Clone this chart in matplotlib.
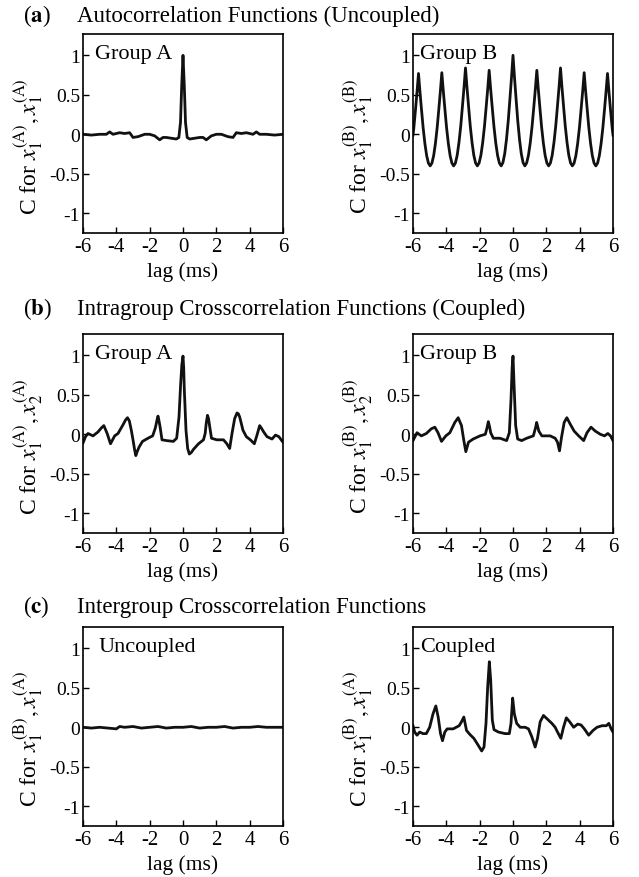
import numpy as np
import matplotlib
matplotlib.use("Agg")
import matplotlib.pyplot as plt

plt.rcParams["font.family"] = "serif"
plt.rcParams["font.serif"] = ["Liberation Serif", "DejaVu Serif"]
plt.rcParams["mathtext.fontset"] = "stix"

# ---- data (lag in ms, correlation C) ----
# (a) autocorrelation, group A, uncoupled
autoA_lag = [-6, -5.5, -5, -4.6, -4.4, -4.2, -3.8, -3.5, -3.2, -3.0, -2.7, -2.3, -2.0, -1.7,
             -1.4, -1.2, -1.0, -0.7, -0.4, -0.25, -0.15, -0.08, 0,
             0.08, 0.15, 0.25, 0.4, 0.7, 1.0, 1.2, 1.4, 1.7, 2.0, 2.3, 2.7, 3.0, 3.2,
             3.5, 3.8, 4.2, 4.4, 4.6, 5, 5.5, 6]
autoA_c = [0, -0.01, 0, 0, 0.03, 0, 0.02, 0.01, 0.02, -0.04, -0.03, 0, 0, -0.02,
           -0.07, -0.04, -0.04, -0.05, -0.06, -0.04, 0.15, 0.6, 1.0,
           0.6, 0.15, -0.04, -0.06, -0.05, -0.04, -0.04, -0.07, -0.02, 0, 0, -0.03, -0.04, 0.02,
           0.01, 0.02, 0, 0.03, 0, 0, -0.01, 0]

# (a) autocorrelation, group B, uncoupled (sharp peaks, rounded troughs)
autoB_lag = [-6.0, -5.95, -5.845, -5.755, -5.67, -5.586, -5.495, -5.39, -5.285, -5.18, -5.075, -4.97,
             -4.865, -4.76, -4.655, -4.55, -4.445, -4.354, -4.27,
             -4.185, -4.092, -3.986, -3.879, -3.773, -3.666, -3.56,
             -3.454, -3.347, -3.241, -3.134, -3.028, -2.935, -2.85,
             -2.765, -2.672, -2.566, -2.459, -2.353, -2.246, -2.14,
             -2.034, -1.927, -1.821, -1.714, -1.608, -1.515, -1.43,
             -1.344, -1.25, -1.142, -1.034, -0.926, -0.818, -0.71,
             -0.604, -0.497, -0.391, -0.284, -0.178, -0.085, 0.0,
             0.085, 0.178, 0.284, 0.391, 0.497, 0.604, 0.71,
             0.818, 0.926, 1.034, 1.142, 1.25, 1.344, 1.43,
             1.515, 1.608, 1.714, 1.821, 1.927, 2.034, 2.14,
             2.246, 2.353, 2.459, 2.566, 2.672, 2.765, 2.85,
             2.935, 3.028, 3.134, 3.241, 3.347, 3.454, 3.56,
             3.666, 3.773, 3.879, 3.986, 4.092, 4.185, 4.27,
             4.354, 4.445, 4.55, 4.655, 4.76, 4.865, 4.97,
             5.075, 5.18, 5.285, 5.39, 5.495, 5.586, 5.67, 5.755, 5.845, 5.95, 6.0]
autoB_c = [-0.01, 0.08, 0.325, 0.548, 0.77, 0.548, 0.325, 0.08, -0.119, -0.271, -0.365, -0.40,
           -0.365, -0.27, -0.117, 0.084, 0.332, 0.556, 0.78,
           0.556, 0.332, 0.084, -0.117, -0.27, -0.365, -0.40,
           -0.363, -0.264, -0.102, 0.108, 0.369, 0.604, 0.84,
           0.604, 0.369, 0.108, -0.102, -0.264, -0.363, -0.40,
           -0.364, -0.267, -0.11, 0.096, 0.35, 0.58, 0.81,
           0.58, 0.35, 0.096, -0.11, -0.267, -0.364, -0.40,
           -0.358, -0.246, -0.064, 0.174, 0.468, 0.734, 1.0,
           0.734, 0.468, 0.174, -0.064, -0.246, -0.358, -0.40,
           -0.364, -0.267, -0.11, 0.096, 0.35, 0.58, 0.81,
           0.58, 0.35, 0.096, -0.11, -0.267, -0.364, -0.40,
           -0.363, -0.264, -0.102, 0.108, 0.369, 0.604, 0.84,
           0.604, 0.369, 0.108, -0.102, -0.264, -0.363, -0.40,
           -0.365, -0.27, -0.117, 0.084, 0.332, 0.556, 0.78,
           0.556, 0.332, 0.084, -0.117, -0.27, -0.365, -0.40,
           -0.365, -0.271, -0.119, 0.08, 0.325, 0.548, 0.77, 0.548, 0.325, 0.08, -0.01]

# (b) intragroup crosscorrelation, group A, coupled
crossA_lag = [-6, -5.85, -5.7, -5.4, -5.1, -4.9, -4.75, -4.55, -4.35, -4.1, -3.9, -3.6, -3.45,
              -3.33, -3.22, -3.1, -3.0, -2.9, -2.83, -2.75, -2.63, -2.43, -2.1, -1.82, -1.66,
              -1.56, -1.5, -1.44, -1.38, -1.26, -0.98, -0.58, -0.38, -0.24, -0.14, -0.07, 0,
              0.04, 0.08, 0.18, 0.28, 0.38, 0.5, 0.63, 0.93, 1.23, 1.33, 1.4, 1.47, 1.53, 1.6,
              1.71, 2.03, 2.43, 2.63, 2.8, 2.94, 3.1, 3.24, 3.32, 3.4, 3.6, 3.8, 4.04, 4.28,
              4.44, 4.6, 4.7, 4.84, 5.04, 5.34, 5.55, 5.75, 6]
crossA_c = [-0.11, -0.03, 0.01, -0.02, 0.03, 0.08, 0.11, 0.01, -0.12, -0.02, 0.01, 0.12, 0.18,
            0.21, 0.17, 0.05, -0.07, -0.2, -0.27, -0.22, -0.16, -0.09, -0.05, -0.02, 0.08,
            0.18, 0.23, 0.17, 0.10, -0.07, -0.08, -0.09, -0.05, 0.22, 0.64, 0.88, 0.99,
            0.85, 0.56, 0.05, -0.18, -0.25, -0.23, -0.19, -0.12, -0.07, 0.01, 0.15, 0.24, 0.2, 0.10,
            -0.05, -0.07, -0.07, -0.12, -0.18, 0.01, 0.20, 0.27, 0.26, 0.22, 0.05, -0.03, -0.07,
            -0.12, -0.01, 0.11, 0.08, 0.03, -0.03, -0.06, -0.01, -0.03, -0.10]

# (b) intragroup crosscorrelation, group B, coupled
crossB_lag = [-6, -5.76, -5.5, -5.2, -4.9, -4.69, -4.5, -4.29, -4.03, -3.79, -3.49, -3.29,
              -3.09, -2.95, -2.83, -2.67, -2.39, -1.98, -1.66, -1.56, -1.48, -1.4, -1.34, -1.18,
              -0.78, -0.38, -0.22, -0.12, -0.05, 0, 0.06, 0.16, 0.28, 0.52, 0.82, 1.22, 1.35,
              1.42, 1.55, 1.73, 2.23, 2.53, 2.67, 2.79, 2.91, 3.07, 3.23, 3.43, 3.67, 3.94,
              4.24, 4.44, 4.68, 4.94, 5.24, 5.49, 5.69, 5.85, 6]
crossB_c = [-0.08, 0.02, -0.02, 0.01, 0.07, 0.09, 0.02, -0.09, -0.02, 0.02, 0.15, 0.21,
            0.11, -0.08, -0.22, -0.10, -0.06, -0.02, 0.0, 0.08, 0.16, 0.09, 0.02, -0.05,
            -0.05, -0.08, 0.02, 0.44, 0.85, 0.99, 0.65, 0.11, -0.06, -0.08, -0.05, -0.02, 0.08,
            0.15, 0.04, -0.02, -0.02, -0.05, -0.10, -0.21, -0.04, 0.15, 0.21, 0.13, 0.04, -0.02,
            -0.08, 0.02, 0.09, 0.04, 0.0, -0.02, 0.01, -0.02, -0.08]

# (c) intergroup crosscorrelation, uncoupled
interU_lag = [-6, -5.5, -5, -4.5, -4, -3.8, -3.5, -3, -2.5, -2, -1.5, -1, -0.5, 0,
              0.5, 1, 1.5, 2, 2.5, 3, 3.5, 4, 4.5, 5, 5.5, 6]
interU_c = [0, -0.01, 0, -0.01, -0.02, 0.01, 0, 0.01, -0.01, 0, 0.01, -0.01, 0, 0,
            0.01, -0.01, 0, 0, 0.01, -0.01, 0, 0, 0.01, 0, 0, 0]

# (c) intergroup crosscorrelation, coupled
interC_lag = [-6, -5.9, -5.76, -5.6, -5.4, -5.2, -5.0, -4.8, -4.63, -4.49, -4.35, -4.23,
              -4.09, -3.95, -3.59, -3.23, -3.09, -2.95, -2.79, -2.59, -2.35, -2.08, -1.88,
              -1.74, -1.62, -1.52, -1.42, -1.34, -1.24, -1.14, -0.88, -0.48, -0.22, -0.12,
              -0.02, 0.08, 0.22, 0.43, 0.73, 0.93, 1.13, 1.33, 1.47, 1.63, 1.83, 2.03, 2.33,
              2.53, 2.67, 2.87, 3.03, 3.2, 3.4, 3.64, 3.88, 4.08, 4.28, 4.54, 4.8, 5.04,
              5.34, 5.6, 5.75, 5.89, 6]
interC_c = [0.02, -0.06, -0.10, -0.06, -0.08, -0.08, 0.0, 0.17, 0.27, 0.13, -0.08, -0.17,
            -0.06, -0.02, -0.02, 0.02, 0.07, 0.13, -0.04, -0.09, -0.14, -0.23, -0.30,
            -0.25, 0.05, 0.51, 0.83, 0.60, 0.09, -0.03, -0.06, -0.08, -0.08, 0.05,
            0.37, 0.17, 0.05, 0.0, 0.0, -0.02, -0.12, -0.25, -0.14, 0.07, 0.15, 0.11, 0.05,
            0.0, -0.06, -0.14, 0.0, 0.12, 0.07, 0.0, 0.04, 0.03, -0.02, -0.10, -0.04, 0.0,
            0.02, 0.02, 0.05, -0.02, -0.06]

titles = ["Autocorrelation Functions (Uncoupled)",
          "Intragroup Crosscorrelation Functions (Coupled)",
          "Intergroup Crosscorrelation Functions"]
letters = ["a", "b", "c"]
ylabels = [[r"C for $x_1^{(\mathrm{A})}, x_1^{(\mathrm{A})}$", r"C for $x_1^{(\mathrm{B})}, x_1^{(\mathrm{B})}$"],
           [r"C for $x_1^{(\mathrm{A})}, x_2^{(\mathrm{A})}$", r"C for $x_1^{(\mathrm{B})}, x_2^{(\mathrm{B})}$"],
           [r"C for $x_1^{(\mathrm{B})}, x_1^{(\mathrm{A})}$", r"C for $x_1^{(\mathrm{B})}, x_1^{(\mathrm{A})}$"]]
tags = [["Group A", "Group B"], ["Group A", "Group B"], ["Uncoupled", "Coupled"]]
series = [[(autoA_lag, autoA_c), (autoB_lag, autoB_c)],
          [(crossA_lag, crossA_c), (crossB_lag, crossB_c)],
          [(interU_lag, interU_c), (interC_lag, interC_c)]]

fs = 15.5
fig = plt.figure(figsize=(6.39, 8.78), dpi=100)

lefts = [83 / 639, 413 / 639]
bottoms = [1 - 234 / 878, 1 - 534 / 878, 1 - 827 / 878]
title_y = [16, 309, 607]
tag_x = [[-5.3, -5.6], [-5.3, -5.6], [-5.1, -5.6]]
w, h = 200 / 639, 199 / 878

for r in range(3):
    fig.text(23 / 639, 1 - title_y[r] / 878, r"($\mathbf{" + letters[r] + r"}$)",
             fontsize=16.5, va="center", ha="left")
    fig.text(77 / 639, 1 - title_y[r] / 878, titles[r], fontsize=16.5, va="center", ha="left")
    for c in range(2):
        ax = fig.add_axes([lefts[c], bottoms[r], w, h])
        lag, val = series[r][c]
        ax.plot(lag, val, color="#111111", lw=2.0, solid_joinstyle="round")
        ax.set_xlim(-6, 6)
        ax.set_ylim(-1.25, 1.27)
        ax.set_xticks([-6, -4, -2, 0, 2, 4, 6])
        ax.set_xticklabels(["-6", "-4", "-2", "0", "2", "4", "6"])
        ax.set_yticks([-1, -0.5, 0, 0.5, 1])
        ax.set_yticklabels(["-1", "-0.5", "0", "0.5", "1"])
        ax.tick_params(direction="in", length=4, width=1.0, pad=3, top=False, right=False)
        ax.tick_params(axis="x", labelsize=15)
        ax.tick_params(axis="y", labelsize=14, pad=2)
        for s in ax.spines.values():
            s.set_linewidth(1.2)
        ax.set_xlabel("lag (ms)", fontsize=fs, labelpad=4)
        ax.set_ylabel(ylabels[r][c], fontsize=17)
        ax.yaxis.set_label_coords(-0.19, 0.44)
        ax.text(tag_x[r][c], 0.97, tags[r][c], fontsize=16, va="baseline", ha="left")

fig.savefig("out.png", dpi=100)
